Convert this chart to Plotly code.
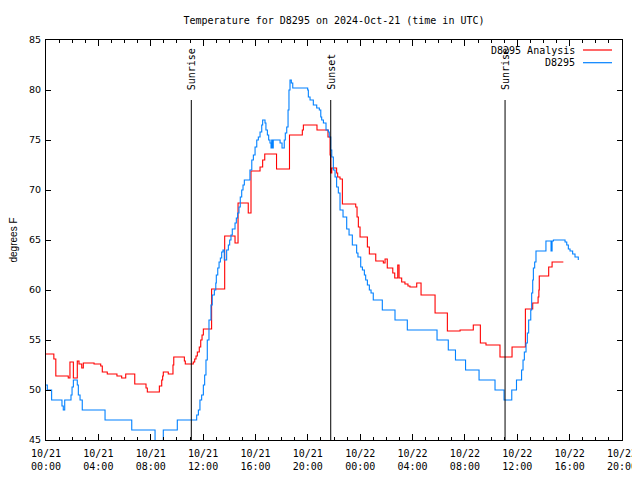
import pandas as pd
import plotly.graph_objects as go

START = pd.Timestamp("2024-10-21 00:00")

# Hours after 2024-10-21 00:00 UTC and temperatures (deg F)
analysis_hours = [0.00, 0.60, 0.75, 1.70, 1.83, 2.09, 2.39, 2.52, 2.73, 2.85, 3.67, 4.18, 4.30, 4.68,
                  5.42, 5.78, 6.09, 6.78, 7.64, 7.74, 8.66, 8.84, 8.91, 8.96, 9.34, 9.70, 9.76, 10.57,
                  10.64, 11.25, 11.36, 11.46, 11.56, 11.71, 11.82, 11.92, 12.02, 12.65, 13.65, 14.44,
                  14.67, 15.45, 15.66, 16.35, 16.55, 16.71, 17.61, 18.60, 19.58, 19.66, 20.70, 21.54,
                  21.70, 21.75, 21.83, 22.20, 22.28, 22.46, 22.64, 23.66, 23.76, 23.86, 23.99, 24.55,
                  24.70, 25.19, 25.77, 25.90, 26.07, 26.49, 26.64, 26.87, 26.97, 27.17, 27.42, 27.65,
                  27.80, 28.32, 28.65, 29.72, 30.66, 31.63, 32.64, 33.18, 33.61, 34.68, 35.60, 36.62,
                  37.18, 37.59, 37.65, 37.68, 38.40, 38.66, 39.52]
analysis_temp = [53.6, 53.1, 51.4, 51.2, 52.8, 51.2, 52.9, 52.6, 52.2, 52.7, 52.6, 52.4, 51.8, 51.6,
                 51.4, 51.2, 51.6, 50.6, 50.2, 49.8, 50.4, 51.0, 51.4, 51.8, 51.6, 52.5, 53.3, 52.9,
                 52.6, 52.8, 53.1, 53.4, 53.8, 54.3, 55.0, 55.5, 56.1, 60.1, 65.4, 64.7,
                 68.7, 67.7, 71.9, 72.3, 73.0, 73.6, 72.1, 75.5, 76.0, 76.5, 76.0, 75.3,
                 73.5, 71.7, 72.2, 71.7, 71.3, 71.1, 68.6, 68.3, 67.3, 66.3, 65.3, 64.3,
                 63.6, 62.9, 62.7, 63.1, 62.2, 61.7, 61.2, 62.5, 61.2, 60.8, 60.6, 60.4,
                 60.3, 60.7, 59.5, 57.7, 55.9, 56.0, 56.5, 54.7, 54.5, 53.3, 54.3, 58.1,
                 58.7, 59.3, 60.0, 61.4, 62.3, 62.8, 62.8]

obs_hours = [0.00, 0.10, 0.43, 1.22, 1.32, 1.43, 1.91, 1.99, 2.09, 2.39, 2.47, 2.60, 2.77, 4.51,
             6.55, 8.33, 8.96, 10.03, 11.51, 11.64, 11.76, 11.89, 12.02, 12.12, 12.22, 12.32, 12.45,
             12.60, 12.70, 12.86, 12.97, 13.01, 13.12, 13.22, 13.32, 13.42, 13.52, 13.62, 13.80,
             13.93, 14.03, 14.13, 14.23, 14.44, 14.54, 14.64, 14.74, 14.84, 14.95, 15.05, 15.15,
             15.58, 15.72, 15.84, 15.97, 16.10, 16.22, 16.35, 16.48, 16.55, 16.73, 16.80, 16.91,
             17.01, 17.11, 17.19, 17.24, 17.32, 17.36, 17.88, 18.03, 18.20, 18.28, 18.39, 18.49,
             18.56, 18.64, 18.74, 18.85, 19.99, 20.04, 20.17, 20.42, 20.68, 20.88, 20.99, 21.06,
             21.19, 21.39, 21.57, 21.64, 21.75, 21.83, 21.95, 22.08, 22.20, 22.33, 22.46, 22.69,
             22.97, 23.15, 23.40, 23.73, 23.83, 24.04, 24.17, 24.32, 24.42, 24.55, 24.70, 24.83,
             25.00, 25.69, 26.66, 27.60, 29.87, 30.73, 31.28, 32.05, 33.08, 34.30, 34.99, 35.58,
             35.94, 36.33, 36.44, 36.54, 36.67, 36.77, 36.87, 37.03, 37.10, 37.18, 37.23, 37.33,
             37.43, 38.19, 38.58, 38.66, 38.76, 39.65, 39.78, 39.90, 40.03, 40.23, 40.41, 40.66]
obs_temp = [50.5, 50.0, 49.0, 48.4, 48.0, 49.0, 49.5, 50.3, 51.0, 50.5, 49.5, 49.0, 48.0, 47.0,
            46.0, 44.0, 46.0, 47.0, 47.5, 48.0, 49.0, 49.5, 50.5, 51.5, 53.0, 55.0, 57.0,
            58.5, 59.5, 60.0, 60.7, 61.5, 62.2, 62.8, 63.2, 63.8, 64.0, 63.0, 64.0,
            64.5, 65.0, 65.5, 66.1, 66.7, 67.2, 67.7, 68.3, 69.3, 70.0, 70.5, 71.0,
            72.0, 73.0, 73.5, 74.3, 75.0, 75.3, 75.8, 76.5, 77.0, 76.7, 76.0, 75.5,
            75.0, 74.7, 74.2, 75.0, 74.2, 75.0, 74.7, 74.2, 75.0, 75.7, 76.3, 78.0,
            80.0, 81.0, 80.7, 80.2, 80.0, 79.3, 79.0, 78.5, 78.2, 78.0, 77.3, 77.0,
            76.7, 76.0, 75.8, 75.3, 74.0, 73.3, 72.0, 71.3, 70.3, 69.7, 68.0, 67.3,
            66.1, 65.5, 64.5, 63.7, 63.3, 62.3, 62.0, 61.5, 61.0, 60.5, 60.0, 59.7,
            59.0, 58.0, 57.0, 56.0, 55.0, 54.0, 53.0, 52.0, 51.0, 50.0, 49.0, 50.0,
            51.0, 52.0, 53.0, 53.8, 54.7, 55.7, 57.0, 58.0, 59.7, 61.0, 62.2, 62.8,
            63.9, 64.9, 63.9, 64.9, 65.0, 64.8, 64.5, 64.1, 63.9, 63.6, 63.3, 63.0]

sun_events = ["Sunrise", "Sunset", "Sunrise"]
sun_times = ["2024-10-21 11:06", "2024-10-21 21:45", "2024-10-22 11:04"]

series_names = ["D8295 Analysis", "D8295"]
series_colors = ["#ff0000", "#0080ff"]

MONO = "DejaVu Sans Mono"

# page body has an 8px default margin; size the figure to fit the 640x480 window
FIG_W, FIG_H = 632, 472


def to_time(hours):
    return START + pd.to_timedelta(pd.Series(hours), unit="h")


fig = go.Figure()
fig.add_trace(go.Scatter(x=to_time(analysis_hours), y=analysis_temp, mode="lines",
                         line=dict(color=series_colors[0], width=1.1, shape="hv"),
                         name=series_names[0], showlegend=False))
fig.add_trace(go.Scatter(x=to_time(obs_hours), y=obs_temp, mode="lines",
                         line=dict(color=series_colors[1], width=1.1, shape="hv"),
                         name=series_names[1], showlegend=False))

for ev, t in zip(sun_events, sun_times):
    fig.add_shape(type="line", xref="x", yref="paper", x0=t, x1=t, y0=0, y1=0.85,
                  line=dict(color="black", width=1))
    fig.add_annotation(x=t, xref="x", y=0.87, yref="paper", text=ev, textangle=-90,
                       showarrow=False, xanchor="center", yanchor="bottom",
                       font=dict(family=MONO, size=10, color="black"))

# gnuplot-style legend: text then line sample
for i, (nm, col) in enumerate(zip(series_names, series_colors)):
    ypx = 50 + i * 12.7
    yp = (440 - ypx) / 400
    fig.add_annotation(x=(577 - 46) / 576, xref="paper", y=yp, yref="paper", text=nm,
                       showarrow=False, xanchor="right", yanchor="middle",
                       font=dict(family=MONO, size=10, color="black"))
    fig.add_shape(type="line", xref="paper", yref="paper",
                  x0=(583 - 46) / 576, x1=(612 - 46) / 576, y0=yp, y1=yp,
                  line=dict(color=col, width=1.2))

fig.update_layout(
    width=FIG_W, height=FIG_H,
    margin=dict(l=38, r=18, t=32, b=40),
    paper_bgcolor="white", plot_bgcolor="white",
    title=dict(text="Temperature for D8295 on 2024-Oct-21 (time in UTC)",
               x=(46 + 288 - 8) / FIG_W, xanchor="center", y=1 - 12 / FIG_H,
               yref="container", xref="container", yanchor="middle",
               font=dict(family=MONO, size=10, color="black")),
    showlegend=False,
)
fig.update_xaxes(
    type="date", range=["2024-10-21 00:00", "2024-10-22 20:00"], automargin=False,
    tick0="2024-10-21 00:00", dtick=4 * 3600 * 1000, tickformat="%m/%d<br>%H:%M",
    ticks="inside", ticklen=6, tickcolor="black", showline=True, linecolor="black",
    linewidth=1, mirror="ticks", showgrid=False, zeroline=False, ticklabelstandoff=4,
    tickfont=dict(family=MONO, size=10, color="black"),
    minor=dict(dtick=3600 * 1000, ticks="inside", ticklen=3, tickcolor="black", showgrid=False),
)
fig.update_yaxes(
    range=[45, 85], dtick=5, ticks="inside", ticklen=5, tickcolor="black", automargin=False,
    showline=True, linecolor="black", linewidth=1, mirror="ticks", ticklabelstandoff=2,
    showgrid=False, zeroline=False,
    tickfont=dict(family="DejaVu Sans", size=9.5, color="black"),
    title=dict(text="degrees F", standoff=17,
               font=dict(family="Liberation Sans", size=10, color="black")),
)

fig.write_html("out.html")
